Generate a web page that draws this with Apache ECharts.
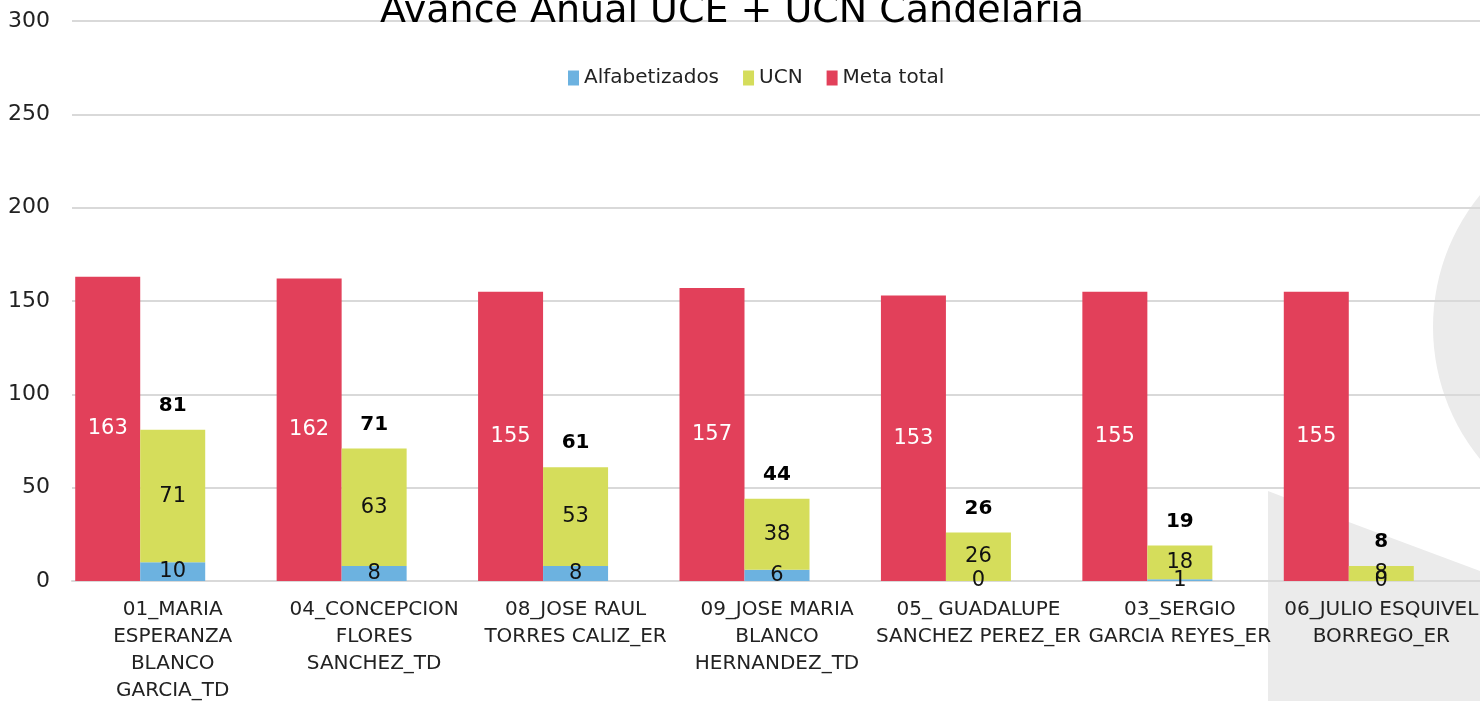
<!DOCTYPE html>
<html>
<head>
<meta charset="utf-8">
<title>Avance Anual UCE + UCN Candelaria</title>
<script src="https://cdn.jsdelivr.net/npm/echarts@6/dist/echarts.min.js"></script>
<style>
    html, body { margin: 0; padding: 0; background: #fff; overflow: hidden; }
    #chart { width: 1480px; height: 701px; }
</style>
</head>
<body>
<div id="chart"></div>
<script>
// datos
var categorias = [
    '01_MARIA\nESPERANZA\nBLANCO\nGARCIA_TD',
    '04_CONCEPCION\nFLORES\nSANCHEZ_TD',
    '08_JOSE RAUL\nTORRES CALIZ_ER',
    '09_JOSE MARIA\nBLANCO\nHERNANDEZ_TD',
    '05_ GUADALUPE\nSANCHEZ PEREZ_ER',
    '03_SERGIO\nGARCIA REYES_ER',
    '06_JULIO ESQUIVEL\nBORREGO_ER'
];
var alfabetizados = [10, 8, 8, 6, 0, 1, 0];
var ucn = [71, 63, 53, 38, 26, 18, 8];
var metaTotal = [163, 162, 155, 157, 153, 155, 155];
var totales = [81, 71, 61, 44, 26, 19, 8];
var ticksY = [0, 50, 100, 150, 200, 250, 300];

var fuente = 'DejaVu Sans';
var ancho = 65;

var chart = echarts.init(document.getElementById('chart'));
chart.setOption({
    animation: false,
    textStyle: { fontFamily: fuente },
    title: {
        text: 'Avance Anual UCE + UCN Candelaria',
        left: 375,
        top: -12,
        textStyle: { fontSize: 38, fontWeight: 'normal', color: '#000', fontFamily: fuente }
    },
    legend: {
        data: ['Alfabetizados', 'UCN', 'Meta total'],
        left: 563,
        top: 63,
        itemWidth: 11,
        itemHeight: 15,
        itemGap: 24,
        icon: 'rect',
        textStyle: { fontSize: 20, color: '#222', fontFamily: fuente }
    },
    graphic: [
        {
            type: 'circle',
            z: -10,
            shape: { cx: 1642, cy: 327, r: 209 },
            style: { fill: '#ebebeb' }
        },
        {
            type: 'polygon',
            z: -10,
            shape: { points: [[1268, 491], [1346, 521], [1480, 571], [1480, 701], [1268, 701]] },
            style: { fill: '#ebebeb' }
        }
    ],
    grid: { left: 72, right: -2, top: 21, bottom: 120, containLabel: false, outerBoundsMode: 'none' },
    xAxis: {
        type: 'category',
        data: categorias,
        axisLine: { lineStyle: { color: '#d9d9d9', width: 2 } },
        axisTick: { show: false },
        axisLabel: {
            interval: 0,
            margin: 15,
            fontSize: 20,
            lineHeight: 27,
            color: '#222',
            fontFamily: fuente
        }
    },
    yAxis: {
        type: 'value',
        min: ticksY[0],
        max: ticksY[ticksY.length - 1],
        interval: 50,
        axisLine: { show: false },
        axisTick: { show: false },
        splitLine: { lineStyle: { color: '#d9d9d9', width: 2 } },
        axisLabel: { margin: 22, fontSize: 22, color: '#222', fontFamily: fuente }
    },
    series: [
        {
            name: 'Meta total',
            type: 'bar',
            barWidth: ancho,
            barGap: '0%',
            data: metaTotal,
            itemStyle: { color: '#E2405A' },
            label: { show: true, position: 'inside', color: '#fff', fontSize: 21, fontFamily: fuente }
        },
        {
            name: 'Alfabetizados',
            type: 'bar',
            stack: 'avance',
            barWidth: ancho,
            barGap: '0%',
            data: alfabetizados,
            itemStyle: { color: '#6CB2E0' },
            label: { show: true, position: 'inside', color: '#111', fontSize: 21, fontFamily: fuente }
        },
        {
            name: 'UCN',
            type: 'bar',
            stack: 'avance',
            barWidth: ancho,
            barGap: '0%',
            data: ucn,
            itemStyle: { color: '#D5DD5B' },
            label: { show: true, position: 'inside', color: '#111', fontSize: 21, fontFamily: fuente }
        },
        {
            name: 'Total',
            type: 'bar',
            stack: 'avance',
            barWidth: ancho,
            barGap: '0%',
            data: totales,
            itemStyle: { color: 'rgba(0,0,0,0)' },
            label: {
                show: true,
                position: 'insideBottom',
                distance: 14,
                color: '#000',
                fontWeight: 'bold',
                fontSize: 20,
                fontFamily: fuente
            },
            silent: true
        },
        {
            // hueco vacio a la derecha de cada grupo
            name: 'vacio',
            type: 'bar',
            stack: 'vacio',
            barWidth: ancho,
            barGap: '0%',
            data: categorias.map(function () { return null; }),
            silent: true
        }
    ]
});
window.addEventListener('resize', function () {
    chart.resize();
});
</script>
</body>
</html>
